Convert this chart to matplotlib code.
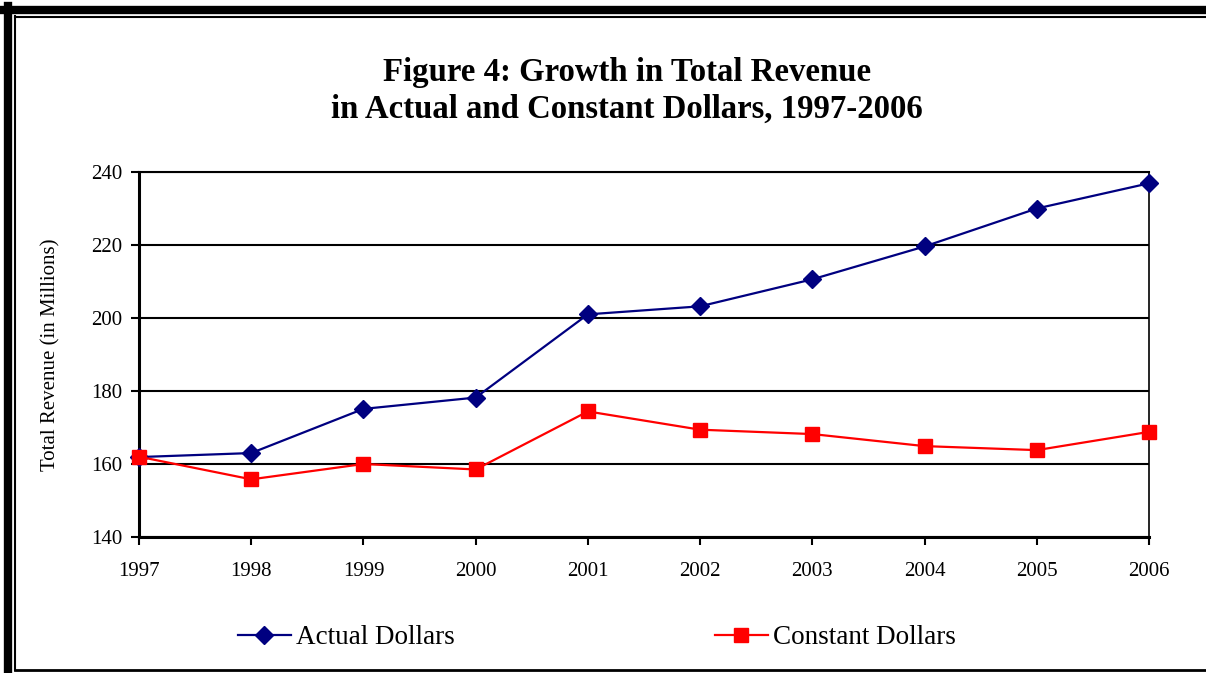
import matplotlib.pyplot as plt
from matplotlib.lines import Line2D

years = [1997, 1998, 1999, 2000, 2001, 2002, 2003, 2004, 2005, 2006]
actual = [161.9, 163.0, 175.1, 178.2, 201.0, 203.2, 210.6, 219.6, 230.0, 236.9]
constant = [162.0, 155.8, 160.0, 158.5, 174.4, 169.4, 168.2, 164.9, 163.8, 168.8]

plt.rcParams['font.family'] = 'Liberation Serif'

W, H = 1206, 673
fig = plt.figure(figsize=(12.06, 6.73), dpi=100)
ax = fig.add_axes([139 / W, 1 - 537 / H, (1149 - 139) / W, (537 - 172) / H])

ax.plot(years, actual, color='#000080', lw=1.6, marker='D', markersize=9.5,
        label='Actual Dollars', zorder=3)
ax.plot(years, constant, color='#ff0000', lw=1.6, marker='s', markersize=10.5,
        label='Constant Dollars', zorder=3)

ax.set_xlim(1997, 2006)
ax.set_ylim(140, 240)
ax.set_xticks(years)
ax.set_yticks(range(140, 241, 20))
ax.yaxis.grid(True, color='black', lw=1.5)
ax.set_axisbelow(True)
ax.tick_params(labelsize=15, length=6, width=1.5, direction='out', pad=6)
ax.tick_params(axis='x', pad=12)
for s in ['left', 'bottom']:
    ax.spines[s].set_linewidth(2.2)
ax.spines['top'].set_linewidth(1.5)
ax.spines['right'].set_linewidth(1.2)
for m in ax.lines[:2]:
    m.set_clip_on(False)
ax.set_ylabel('Total Revenue (in Millions)', fontsize=15, labelpad=22)

fig.text(627 / W, 1 - 91 / H, 'Figure 4: Growth in Total Revenue\nin Actual and Constant Dollars, 1997-2006',
         ha='center', va='center', fontsize=23.6, fontweight='bold', linespacing=1.26)

fig.legend(loc='center', bbox_to_anchor=(597 / W, 1 - 638 / H), ncol=2, frameon=False,
           fontsize=19.5, handlelength=1.95, handletextpad=0.2, columnspacing=9.6)

# page border
fig.add_artist(Line2D([8 / W, 8 / W], [0, 1 - 6 / H], color='black', lw=6))
fig.add_artist(Line2D([4 / W, 1], [1 - 10 / H, 1 - 10 / H], color='black', lw=6))
fig.add_artist(Line2D([15 / W, 15 / W], [1 - 670 / H, 1 - 16 / H], color='black', lw=1.5))
fig.add_artist(Line2D([15 / W, 1], [1 - 16.5 / H, 1 - 16.5 / H], color='black', lw=1.5))
fig.add_artist(Line2D([15 / W, 1], [1 - 670 / H, 1 - 670 / H], color='black', lw=2))

fig.savefig('out.png', dpi=100)
